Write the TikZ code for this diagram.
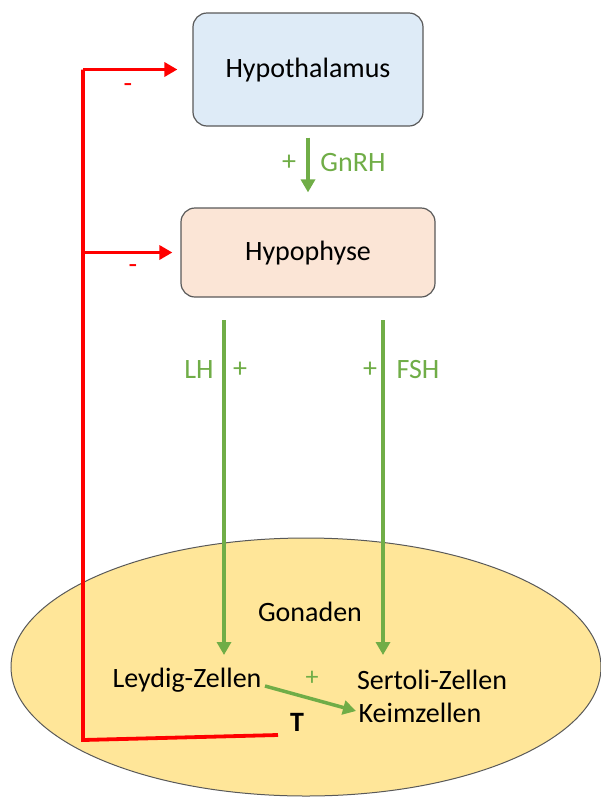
\documentclass[tikz,border=0pt]{standalone}
\usepackage{fontspec}
\setmainfont{Carlito}
\usetikzlibrary{arrows.meta,shapes.geometric}
\definecolor{gr}{HTML}{70AD47}
\definecolor{rd}{HTML}{FF0000}
\definecolor{bluefill}{HTML}{DEEBF7}
\definecolor{peachfill}{HTML}{FBE5D6}
\definecolor{yel}{HTML}{FFE699}
\definecolor{edge}{HTML}{595959}
\tikzset{
  organ/.style={draw=edge, line width=1.2pt, rounded corners=14pt, inner sep=0pt},
  lbl/.style={font=\fontsize{28}{30}\selectfont, text=black, inner sep=0pt},
  glbl/.style={font=\fontsize{28}{30}\selectfont, text=gr, inner sep=0pt},
  rlbl/.style={font=\fontsize{28}{30}\selectfont, text=rd, inner sep=0pt},
  garrow/.style={draw=gr, line width=3.5pt, -{Triangle[length=13pt,width=14pt]}},
  rline/.style={draw=rd, line width=3.8pt},
  rarrow/.style={draw=rd, line width=3.8pt, -{Triangle[length=13pt,width=14pt]}},
}
\begin{document}
\begin{tikzpicture}[x=1pt,y=-1pt]
\useasboundingbox (0,0) rectangle (601,801);
% gonad ellipse
\node[ellipse, draw=edge, line width=1pt, fill=yel, minimum width=590pt, minimum height=258pt, inner sep=0pt] (gon) at (306,667) {};
% boxes
\node[organ, fill=bluefill, minimum width=230pt, minimum height=113pt] (hyth) at (308,69.5) {};
\node[lbl] (hythT) at (308,70) {Hypothalamus};
\node[organ, fill=peachfill, minimum width=254pt, minimum height=89pt] (hyp) at (308,252.5) {};
\node[lbl] (hypT) at (308,253) {Hypophyse};
% GnRH
\draw[garrow, shorten <=11pt, shorten >=15pt] (hyth.south) -- (hyp.north);
\node[glbl] (gplus) at (289,163) {+};
\node[glbl] (gnrh) at (353,163) {GnRH};
% LH / FSH
\coordinate (lhs) at (224,320);
\coordinate (lhe) at (224,655);
\coordinate (fshs) at (383,320);
\coordinate (fshe) at (383,655);
\draw[garrow] (lhs) -- (lhe);
\draw[garrow] (fshs) -- (fshe);
\node[glbl] (lh) at (199,370) {LH};
\node[glbl] (lhplus) at (240,370) {+};
\node[glbl] (fshplus) at (370,370) {+};
\node[glbl] (fsh) at (418,370) {FSH};
% gonad texts
\node[lbl] (gonT) at (310,612) {Gonaden};
\node[lbl] (leydig) at (187,680) {Leydig-Zellen};
\node[lbl] (sertoli) at (432,680) {Sertoli-Zellen};
\node[lbl] (keim) at (420,713) {Keimzellen};
\node[glbl, font=\fontsize{26}{28}\selectfont] (lkplus) at (312,678) {+};
\coordinate (la) at (265,686);
\coordinate (lb) at (356,711);
\draw[garrow] (la) -- (lb);
\node[lbl, font=\bfseries\fontsize{28}{30}\selectfont] (T) at (297,722) {T};
% red feedback
\coordinate (tend) at (278,735);
\coordinate (corner) at (83,740);
\coordinate (top) at (83,69.5);
\coordinate (mid) at (83,252.5);
\draw[rline, line join=miter] (tend) -- (corner) -- (top);
\draw[rarrow, shorten >=15pt] (top) -- (hyth.west);
\draw[rarrow, shorten >=8pt] (mid) -- (hyp.west);
\node[rlbl] (m1) at (128,88) {-};
\node[rlbl] (m2) at (133,269) {-};
\end{tikzpicture}
\end{document}
